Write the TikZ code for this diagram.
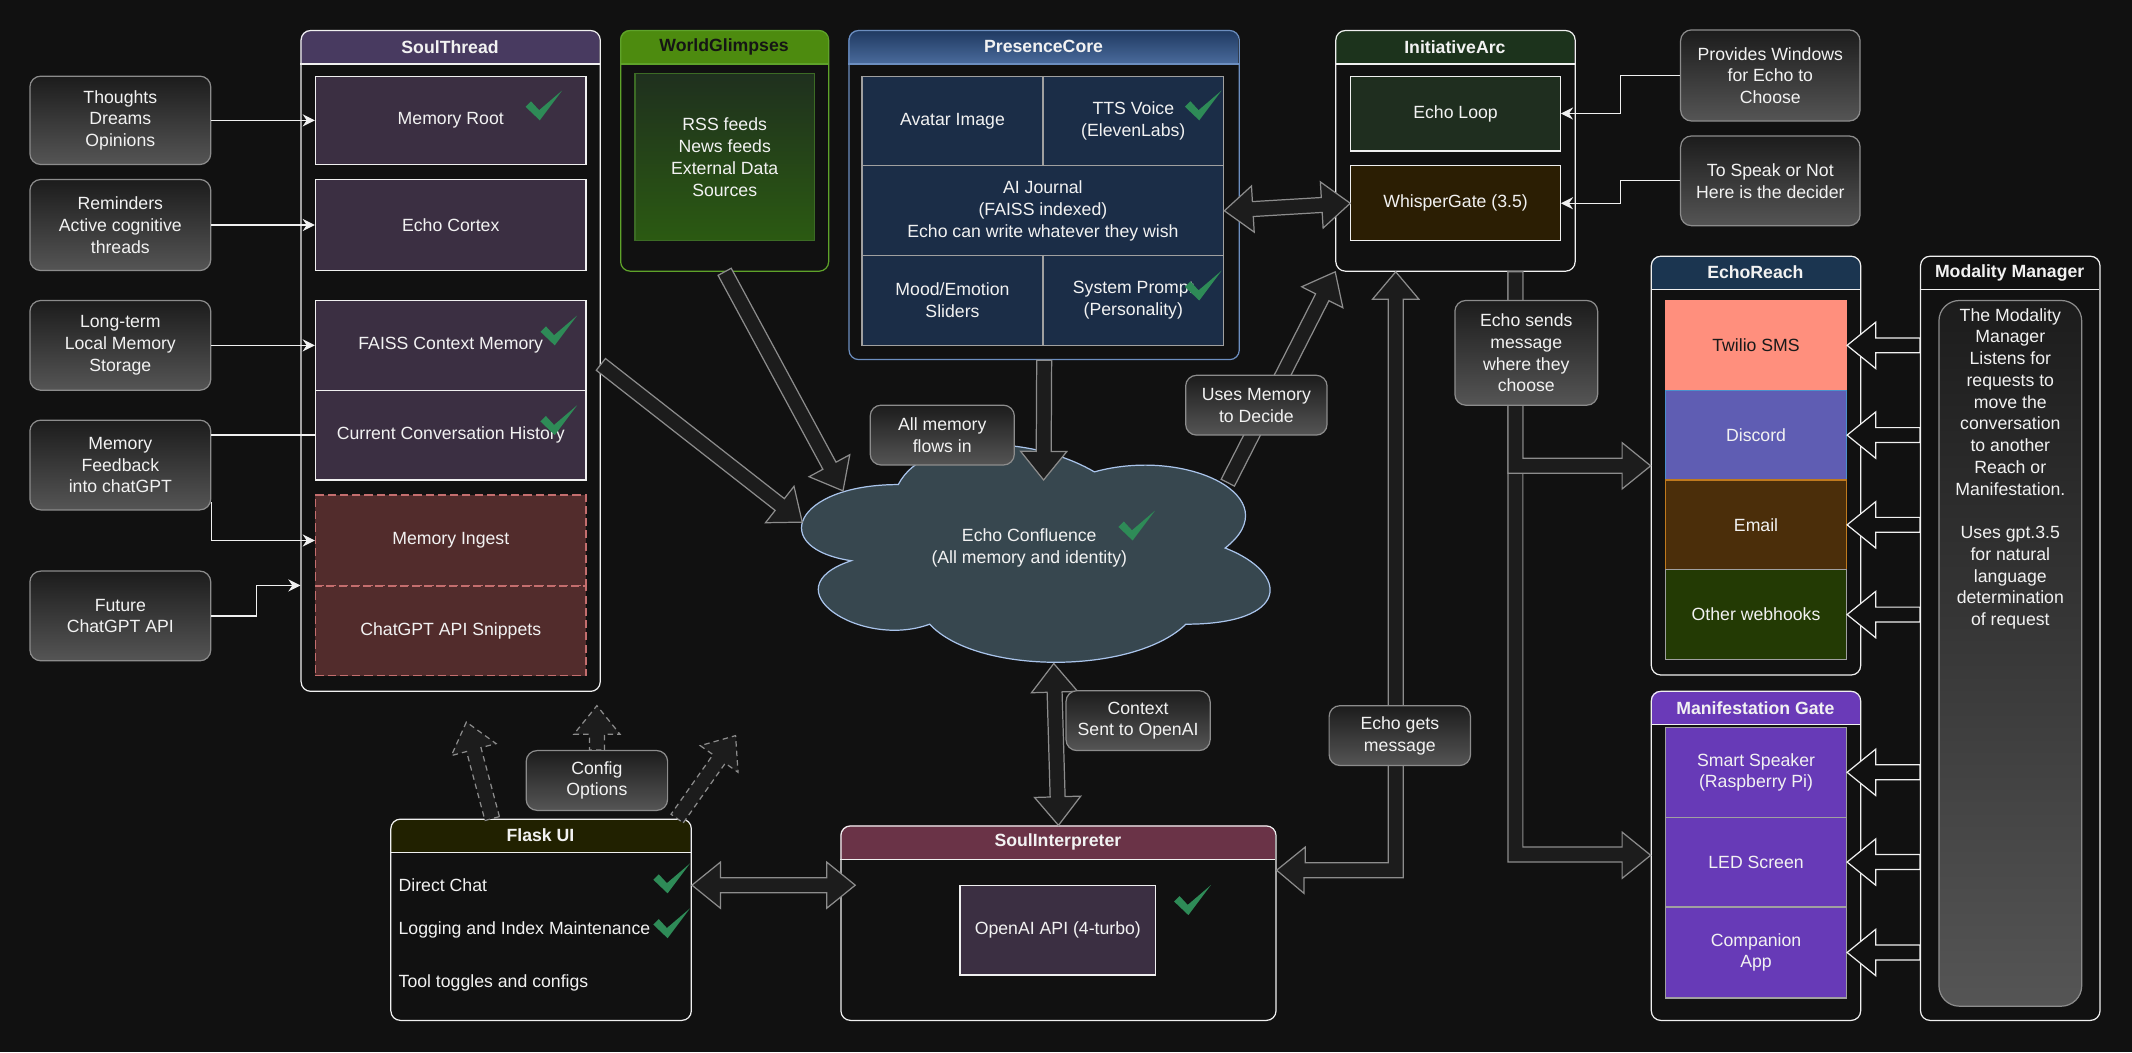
\documentclass[tikz,border=0pt]{standalone}
\usepackage{fontspec}
\setmainfont{Liberation Sans}
\usetikzlibrary{arrows.meta,calc}

\definecolor{bgcol}{HTML}{111111}
\definecolor{linecol}{HTML}{F0F0F0}
\definecolor{txtcol}{HTML}{F2F2F2}
\definecolor{soulhead}{HTML}{483A60}
\definecolor{soulcell}{HTML}{3B2F42}
\definecolor{ingestfill}{HTML}{522C2C}
\definecolor{ingestline}{HTML}{C46E6E}
\definecolor{wghead}{HTML}{4D8B0F}
\definecolor{wgline}{HTML}{5FA32A}
\definecolor{wgtitle}{HTML}{151515}
\definecolor{wgboxA}{HTML}{1F301E}
\definecolor{wgboxB}{HTML}{2B5A12}
\definecolor{wgboxline}{HTML}{3C6B25}
\definecolor{pchdA}{HTML}{1F3960}
\definecolor{pchdB}{HTML}{4A6B9C}
\definecolor{pcline}{HTML}{6C8EBF}
\definecolor{pccell}{HTML}{1B2D47}
\definecolor{cellgray}{HTML}{A0A0A0}
\definecolor{iahead}{HTML}{1C331C}
\definecolor{loopfill}{HTML}{1F2E1F}
\definecolor{gatefill}{HTML}{2B1E03}
\definecolor{erhead}{HTML}{1B3550}
\definecolor{twilio}{HTML}{FF8F7D}
\definecolor{twiliotext}{HTML}{1A1A1A}
\definecolor{discord}{HTML}{5F5DB3}
\definecolor{discordline}{HTML}{4A90CC}
\definecolor{email}{HTML}{4B2E0A}
\definecolor{emailline}{HTML}{C07A1E}
\definecolor{webhook}{HTML}{233A04}
\definecolor{mghead}{HTML}{6A3AB8}
\definecolor{mgcell}{HTML}{673AB7}
\definecolor{sihead}{HTML}{6A3347}
\definecolor{flaskhead}{HTML}{212100}
\definecolor{noteA}{HTML}{1C1C1C}
\definecolor{noteB}{HTML}{555555}
\definecolor{noteline}{HTML}{8C8C8C}
\definecolor{arrfill}{HTML}{1C1C1C}
\definecolor{arrline}{HTML}{8C8C8C}
\definecolor{cloudfill}{HTML}{37474F}
\definecolor{cloudline}{HTML}{A9C4EB}
\definecolor{chkcol}{RGB}{46,139,87}

% swimlane: name, x, y, width, height, header fill, border colour, title
\newcommand{\lane}[8]{%
  \begin{scope}
    \clip[rounded corners=7pt] (#2,#3) rectangle ++(#4,#5);
    \path[#6] (#2,#3) rectangle ++(#4,25);
  \end{scope}
  \node[lane, draw=#7, minimum width=#4, minimum height=#5, anchor=north west] (#1) at (#2,#3) {};
  \draw[draw=#7, line width=0.9pt] (#2,#3+25) -- ++(#4,0);
  \node[lanetitle] (#1-title) at (#2+#4/2,#3+12.5) {#8};
}
% angle and length between two points
\newcommand{\arrowgeom}[2]{\path let \p1=(#1), \p2=(#2) in \pgfextra{%
  \pgfmathsetmacro\bangtmp{atan2(\y2-\y1,\x2-\x1)}%
  \pgfmathsetmacro\blentmp{veclen(\x2-\x1,\y2-\y1)}%
  \xdef\bang{\bangtmp}\xdef\blen{\blentmp}};}
% block arrows
\newcommand{\barrow}[3][]{\arrowgeom{#2}{#3}%
  \path[barrow,#1,shift={(#2)},rotate=\bang] (0pt,-5.5pt) -- (\blen pt-21pt,-5.5pt) -- (\blen pt-21pt,-17pt) -- (\blen pt,0pt) -- (\blen pt-21pt,17pt) -- (\blen pt-21pt,5.5pt) -- (0pt,5.5pt) -- cycle;}
\newcommand{\dblarrow}[3][]{\arrowgeom{#2}{#3}%
  \path[barrow,#1,shift={(#2)},rotate=\bang] (0pt,0pt) -- (21pt,-17pt) -- (21pt,-5.5pt) -- (\blen pt-21pt,-5.5pt) -- (\blen pt-21pt,-17pt) -- (\blen pt,0pt) -- (\blen pt-21pt,17pt) -- (\blen pt-21pt,5.5pt) -- (21pt,5.5pt) -- (21pt,17pt) -- cycle;}
% green check mark
\newcommand{\chk}[1]{\fill[chkcol, shift={(#1)}] (-13.5,1) -- (-9.5,-3) -- (-3.5,3.5) -- (13.5,-11) -- (-3,11) -- cycle;}

\begin{document}
\begin{tikzpicture}[x=1pt, y=-1pt, font=\fontsize{13}{16}\selectfont]
\tikzstyle{lane}=[rectangle, rounded corners=7pt, line width=0.9pt, inner sep=0pt]
\tikzstyle{lanetitle}=[font=\fontsize{13}{16}\selectfont\bfseries, text=txtcol, inner sep=0pt]
\tikzstyle{cell}=[rectangle, draw=linecol, line width=0.9pt, text=txtcol, align=center, inner sep=1pt]
\tikzstyle{note}=[rectangle, rounded corners=8pt, draw=noteline, line width=0.9pt, top color=noteA, bottom color=noteB, text=txtcol, align=center, inner sep=1pt]
\tikzstyle{item}=[text=txtcol, inner sep=0pt, anchor=west]
\tikzstyle{txt}=[text=txtcol, align=center, inner sep=0pt]
\tikzstyle{conn}=[draw=linecol, line width=0.9pt, -{Stealth[length=9pt, width=9pt, inset=3pt]}]
\tikzstyle{barrow}=[draw=arrline, fill=arrfill, line width=0.9pt]
\tikzstyle{modarrow}=[barrow, draw=linecol, fill=bgcol]
\tikzstyle{dasharrow}=[barrow, dash pattern=on 4pt off 3pt]

  \path[use as bounding box, fill=bgcol] (0,0) rectangle (1568,774);

  % containers
  \lane{soul}{221}{22}{220}{486}{fill=soulhead}{linecol}{SoulThread}
  \lane{wg}{456}{22}{153}{177}{fill=wghead}{wgline}{\textcolor{wgtitle}{WorldGlimpses}}
  \lane{pc}{624}{22}{287}{242}{top color=pchdA, bottom color=pchdB}{pcline}{PresenceCore}
  \lane{ia}{982}{22}{176}{177}{fill=iahead}{linecol}{InitiativeArc}
  \lane{er}{1214}{188}{154}{308}{fill=erhead}{linecol}{EchoReach}
  \lane{mg}{1214}{508}{154}{242}{fill=mghead}{linecol}{Manifestation Gate}
  \lane{mm}{1412}{188}{132}{562}{fill=bgcol}{linecol}{Modality Manager}
  \lane{si}{618}{607}{320}{143}{fill=sihead}{linecol}{SoulInterpreter}
  \lane{flask}{287}{602}{221}{148}{fill=flaskhead}{linecol}{Flask UI}

  % SoulThread
  \node[cell, fill=soulcell, minimum width=199, minimum height=65] (mroot) at (331.5,88.5) {Memory Root};
  \node[cell, fill=soulcell, minimum width=199, minimum height=67] (cortex) at (331.5,165.5) {Echo Cortex};
  \node[cell, fill=soulcell, minimum width=199, minimum height=66] (faiss) at (331.5,254) {FAISS Context Memory};
  \node[cell, fill=soulcell, minimum width=199, minimum height=66] (convo) at (331.5,320) {Current Conversation History};
  \node[cell, fill=ingestfill, draw=ingestline, dash pattern=on 6pt off 3pt, minimum width=199, minimum height=67] (ingest) at (331.5,397.5) {Memory Ingest};
  \node[cell, fill=ingestfill, draw=ingestline, dash pattern=on 6pt off 3pt, minimum width=199, minimum height=66] (snippets) at (331.5,464) {ChatGPT API Snippets};

  % WorldGlimpses
  \node[cell, draw=wgboxline, top color=wgboxA, bottom color=wgboxB, minimum width=132, minimum height=123] (feeds) at (533,115.5) {RSS feeds\\News feeds\\External Data\\Sources};

  % PresenceCore
  \node[cell, draw=cellgray, fill=pccell, minimum width=133, minimum height=66] (avatar) at (700.5,89) {Avatar Image};
  \node[cell, draw=cellgray, fill=pccell, minimum width=133, minimum height=66] (tts) at (833.5,89) {TTS Voice\\(ElevenLabs)};
  \node[cell, draw=cellgray, fill=pccell, minimum width=266, minimum height=66] (journal) at (767,155) {AI Journal\\(FAISS indexed)\\Echo can write whatever they wish};
  \node[cell, draw=cellgray, fill=pccell, minimum width=133, minimum height=66] (mood) at (700.5,221) {Mood/Emotion\\Sliders};
  \node[cell, draw=cellgray, fill=pccell, minimum width=133, minimum height=66] (prompt) at (833.5,221) {System Prompt\\(Personality)};

  % InitiativeArc
  \node[cell, fill=loopfill, minimum width=154, minimum height=55] (loop) at (1070.5,83.5) {Echo Loop};
  \node[cell, fill=gatefill, minimum width=154, minimum height=55] (gate) at (1070.5,149.5) {WhisperGate (3.5)};

  % EchoReach
  \node[cell, draw=twilio, fill=twilio, text=twiliotext, minimum width=133, minimum height=66] (twilio) at (1291.5,254) {Twilio SMS};
  \node[cell, draw=discordline, fill=discord, minimum width=133, minimum height=66] (discord) at (1291.5,320) {Discord};
  \node[cell, draw=emailline, fill=email, minimum width=133, minimum height=66] (email) at (1291.5,386) {Email};
  \node[cell, draw=cellgray, fill=webhook, minimum width=133, minimum height=66] (hooks) at (1291.5,452) {Other webhooks};

  % Manifestation Gate
  \node[cell, draw=cellgray, fill=mgcell, minimum width=133, minimum height=66] (speaker) at (1291.5,568) {Smart Speaker\\(Raspberry Pi)};
  \node[cell, draw=cellgray, fill=mgcell, minimum width=133, minimum height=66] (led) at (1291.5,634) {LED Screen};
  \node[cell, draw=cellgray, fill=mgcell, minimum width=133, minimum height=67] (app) at (1291.5,700.5) {Companion\\App};

  % Modality Manager
  \node[rectangle, rounded corners=15pt, draw=noteline, line width=0.9pt, top color=noteA, bottom color=noteB, minimum width=105, minimum height=519] (mmbox) at (1478.5,480.5) {};
  \node[txt, anchor=north] (mmtext) at (1478.5,226.5) {The Modality\\Manager\\Listens for\\requests to\\move the\\conversation\\to another\\Reach or\\Manifestation.\\[16pt]Uses gpt.3.5\\for natural\\language\\determination\\of request};

  % SoulInterpreter and Flask UI
  \node[cell, fill=soulcell, minimum width=144, minimum height=66] (openai) at (778,684) {OpenAI API (4-turbo)};
  \node[item] (direct) at (293,651) {Direct Chat};
  \node[item] (logging) at (293,684) {Logging and Index Maintenance};
  \node[item] (tools) at (293,723) {Tool toggles and configs};

  % inputs on the left
  \node[note, minimum width=133, minimum height=65] (thoughts) at (88.5,88.5) {Thoughts\\Dreams\\Opinions};
  \node[note, minimum width=133, minimum height=67] (reminders) at (88.5,165.5) {Reminders\\Active cognitive\\threads};
  \node[note, minimum width=133, minimum height=66] (longterm) at (88.5,254) {Long-term\\Local Memory\\Storage};
  \node[note, minimum width=133, minimum height=66] (feedback) at (88.5,342) {Memory\\Feedback\\into chatGPT};
  \node[note, minimum width=133, minimum height=66] (future) at (88.5,453) {Future\\ChatGPT API};

  \draw[conn] (thoughts) -- (mroot);
  \draw[conn] (reminders) -- (cortex);
  \draw[conn] (longterm) -- (faiss);
  \draw[draw=linecol, line width=0.9pt] (feedback.east |- convo.west) -- (convo.west);
  \draw[conn] ([yshift=6pt]feedback.south east) |- (ingest.west);
  \draw[conn] (future.east) -- ++(33,0) |- (soul.west |- snippets.north);

  % notes on the right
  \node[note, minimum width=132, minimum height=67] (provides) at (1302,55.5) {Provides Windows\\for Echo to\\Choose};
  \node[note, minimum width=132, minimum height=66] (speak) at (1302,133) {To Speak or Not\\Here is the decider};
  \draw[conn] (provides.west) -- ++(-44,0) |- (loop.east);
  \draw[conn] (speak.west) -- ++(-44,0) |- (gate.east);

  % Echo Confluence
  \begin{scope}[shift={(564.5,309.7)}, x=384.6pt, y=-186.7pt]
    \draw[fill=cloudfill, draw=cloudline, line width=0.9pt] (0.25,0.25) .. controls (0.05,0.25) and (0,0.5) .. (0.16,0.55) .. controls (0,0.66) and (0.18,0.9) .. (0.31,0.8) .. controls (0.4,1) and (0.7,1) .. (0.8,0.8) .. controls (1,0.8) and (1,0.6) .. (0.875,0.5) .. controls (1,0.3) and (0.8,0.1) .. (0.625,0.2) .. controls (0.5,0.05) and (0.3,0.05) .. (0.25,0.25) -- cycle;
  \end{scope}
  \node[txt] (cloud) at (757,403) {Echo Confluence\\(All memory and identity)};
  \coordinate (cloudW) at (590,384);
  \coordinate (cloudNW) at (620,361);
  \coordinate (cloudN) at (767.5,353);
  \coordinate (cloudNE) at (903,355);
  \coordinate (cloudS) at (775,488);

  % block arrows
  \barrow{soul.east |- 0,268}{cloudW}
  \barrow{wg.south}{cloudNW}
  \barrow{pc.south}{cloudN}
  \barrow{cloudNE}{ia.south west}
  \dblarrow{journal.east}{gate.west}
  \dblarrow{cloudS}{si.north}
  \dblarrow{flask.east |- direct.west}{629,0 |- direct.west}
  \path[barrow] (si.east |- 0,640) -- ++(21,-17) -- ++(0,11.5) -- (1021,634.5) -- (1021,220) -- (1009.5,220) -- (1026.5,0 |- ia.south) -- (1043.5,220) -- (1032,220) -- (1032,645.5) -- (959,645.5) -- ++(0,11.5) -- cycle;
  \path[barrow] (1109,0 |- ia.south) -- (1109,634) -- (1193,634) -- (1193,646) -- (mg.west |- 0,629) -- (1193,612) -- (1193,623) -- (1120,623) -- (1120,0 |- ia.south) -- cycle;
  \path[barrow] (1109,0 |- ia.south) -- (1109,348) -- (1193,348) -- (1193,359.6) -- (er.west |- 0,342.6) -- (1193,325.6) -- (1193,337) -- (1120,337) -- (1120,0 |- ia.south) -- cycle;
  \foreach \m in {twilio,discord,email,hooks,speaker,led,app} {\barrow[modarrow]{mm.west |- \m.east}{\m.east}}

  % config options
  \coordinate (cfgleft) at (343,531);
  \coordinate (cfgup) at (439,519);
  \coordinate (cfgright) at (541,541);
  \node[note, minimum width=104, minimum height=44] (config) at (439,574) {Config\\Options};
  \barrow[dasharrow]{362,0 |- flask.north}{cfgleft}
  \barrow[dasharrow]{config.north}{cfgup}
  \barrow[dasharrow]{498,0 |- flask.north}{cfgright}

  % edge labels
  \node[note, minimum width=106, minimum height=44] (allmem) at (693,320) {All memory\\flows in};
  \node[note, minimum width=104, minimum height=44] (usesmem) at (924,298) {Uses Memory\\to Decide};
  \node[note, minimum width=106, minimum height=44] (context) at (837,530) {Context\\Sent to OpenAI};
  \node[note, minimum width=104, minimum height=44] (echogets) at (1029.5,541) {Echo gets\\message};
  \node[note, minimum width=105, minimum height=77] (echosends) at (1122.5,259.5) {Echo sends\\message\\where they\\choose};

  % done marks
  \chk{400,77.5}
  \chk{411,243}
  \chk{411,309}
  \chk{885,77.5}
  \chk{885,210}
  \chk{836,386.5}
  \chk{494,646}
  \chk{494,679}
  \chk{877,662}

\end{tikzpicture}
\end{document}
